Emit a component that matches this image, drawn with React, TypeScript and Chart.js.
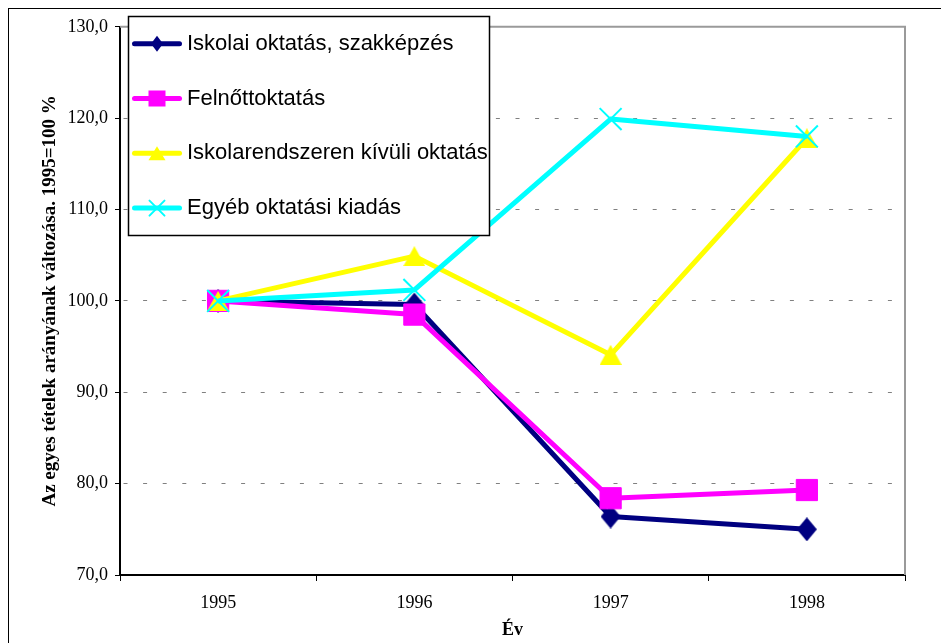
import React, { useEffect, useRef } from "react";
import { Chart, registerables } from "chart.js";

Chart.register(...registerables);

// ---- data ----
const years = ["1995", "1996", "1997", "1998"];
const iskolai = [100, 99.6, 76.4, 75.0];
const felnott = [100, 98.5, 78.4, 79.3];
const iskolarendszeren = [100, 104.9, 94.1, 117.8];
const egyeb = [100, 101.2, 119.9, 118.0];
const seriesNames = [
  "Iskolai oktatás, szakképzés",
  "Felnőttoktatás",
  "Iskolarendszeren kívüli oktatás",
  "Egyéb oktatási kiadás",
];
const yTicks = [70, 80, 90, 100, 110, 120, 130];
const yTickLabels = ["70,0", "80,0", "90,0", "100,0", "110,0", "120,0", "130,0"];
const yTitle = "Az egyes tételek arányának változása. 1995=100 %";
const xTitle = "Év";

// ---- styles ----
const NAVY = "#000080";
const MAGENTA = "#FF00FF";
const YELLOW = "#FFFF00";
const CYAN = "#00FFFF";
const colors = [NAVY, MAGENTA, YELLOW, CYAN];
const markers = ["diamond", "square", "triangle", "cross"];

function makeDiamond(w: number, h: number, color: string) {
  const c = document.createElement("canvas");
  c.width = w;
  c.height = h;
  const g = c.getContext("2d")!;
  g.fillStyle = color;
  g.beginPath();
  g.moveTo(w / 2, 0);
  g.lineTo(w, h / 2);
  g.lineTo(w / 2, h);
  g.lineTo(0, h / 2);
  g.closePath();
  g.fill();
  return c;
}

function makeTriangle(w: number, h: number, color: string) {
  const c = document.createElement("canvas");
  c.width = w;
  c.height = h;
  const g = c.getContext("2d")!;
  g.fillStyle = color;
  g.beginPath();
  g.moveTo(w / 2, 0);
  g.lineTo(w, h);
  g.lineTo(0, h);
  g.closePath();
  g.fill();
  return c;
}

function drawMarker(ctx: CanvasRenderingContext2D, kind: string, x: number, y: number, color: string) {
  ctx.save();
  ctx.fillStyle = color;
  ctx.strokeStyle = color;
  if (kind === "diamond") {
    ctx.beginPath();
    ctx.moveTo(x, y - 8);
    ctx.lineTo(x + 6, y);
    ctx.lineTo(x, y + 8);
    ctx.lineTo(x - 6, y);
    ctx.closePath();
    ctx.fill();
  } else if (kind === "square") {
    ctx.fillRect(x - 8.5, y - 8, 17, 16);
  } else if (kind === "triangle") {
    ctx.beginPath();
    ctx.moveTo(x, y - 7);
    ctx.lineTo(x + 8.5, y + 7);
    ctx.lineTo(x - 8.5, y + 7);
    ctx.closePath();
    ctx.fill();
  } else {
    ctx.lineWidth = 2;
    ctx.beginPath();
    ctx.moveTo(x - 7.5, y - 7.5);
    ctx.lineTo(x + 7.5, y + 7.5);
    ctx.moveTo(x + 7.5, y - 7.5);
    ctx.lineTo(x - 7.5, y + 7.5);
    ctx.stroke();
  }
  ctx.restore();
}

const plotBorderPlugin = {
  id: "plotBorder",
  beforeDatasetsDraw(chart: any) {
    const { ctx, chartArea } = chart;
    ctx.save();
    ctx.strokeStyle = "#9a9a9a";
    ctx.lineWidth = 2;
    ctx.beginPath();
    ctx.moveTo(chartArea.left, chartArea.top);
    ctx.lineTo(chartArea.right, chartArea.top);
    ctx.lineTo(chartArea.right, chartArea.bottom);
    ctx.stroke();
    ctx.restore();
  },
};

const legendPlugin = {
  id: "boxLegend",
  afterDraw(chart: any) {
    const ctx: CanvasRenderingContext2D = chart.ctx;
    const bx = 119.5;
    const by = 7.5;
    const bw = 361;
    const bh = 219;
    ctx.save();
    ctx.fillStyle = "#ffffff";
    ctx.fillRect(bx, by, bw, bh);
    ctx.strokeStyle = "#000000";
    ctx.lineWidth = 1.5;
    ctx.strokeRect(bx, by, bw, bh);
    seriesNames.forEach((name, i) => {
      const y = 34.7 + i * 54.8;
      ctx.strokeStyle = colors[i];
      ctx.lineWidth = 5;
      ctx.lineCap = "round";
      ctx.beginPath();
      ctx.moveTo(125.5, y);
      ctx.lineTo(170.5, y);
      ctx.stroke();
      drawMarker(ctx, markers[i], 148, y, colors[i]);
      ctx.fillStyle = "#000000";
      ctx.font = '22px "Liberation Sans", Arial, sans-serif';
      ctx.textBaseline = "middle";
      ctx.textAlign = "left";
      ctx.fillText(name, 178, y);
    });
    ctx.restore();
  },
};

export default function App() {
  const ref = useRef<HTMLCanvasElement>(null);

  useEffect(() => {
    if (!ref.current) return;
    const diamond = makeDiamond(20, 24, NAVY);
    const triangle = makeTriangle(22, 20, YELLOW);
    const serif = '"Liberation Serif", "Times New Roman", serif';

    const chart = new Chart(ref.current, {
      type: "line",
      data: {
        labels: years,
        datasets: [
          {
            label: seriesNames[0],
            data: iskolai,
            borderColor: NAVY,
            backgroundColor: NAVY,
            borderWidth: 5,
            pointStyle: diamond as any,
            pointRadius: 10,
            order: 4,
          },
          {
            label: seriesNames[1],
            data: felnott,
            borderColor: MAGENTA,
            backgroundColor: MAGENTA,
            borderWidth: 5,
            pointStyle: "rect",
            pointRadius: 15,
            pointBorderWidth: 1,
            pointBackgroundColor: MAGENTA,
            pointBorderColor: MAGENTA,
            order: 3,
          },
          {
            label: seriesNames[2],
            data: iskolarendszeren,
            borderColor: YELLOW,
            backgroundColor: YELLOW,
            borderWidth: 5,
            pointStyle: triangle as any,
            pointRadius: 10,
            order: 2,
          },
          {
            label: seriesNames[3],
            data: egyeb,
            borderColor: CYAN,
            backgroundColor: CYAN,
            borderWidth: 5,
            pointStyle: "crossRot",
            pointRadius: 15.5,
            pointBorderWidth: 2,
            pointBorderColor: CYAN,
            order: 1,
          },
        ],
      },
      options: {
        animation: false,
        responsive: false,
        events: [],
        datasets: { line: { tension: 0, borderJoinStyle: "round" } as any },
        layout: { padding: { left: 0, top: 15, right: 44, bottom: 0 } },
        plugins: {
          legend: { display: false },
          tooltip: { enabled: false },
        },
        scales: {
          x: {
            type: "category",
            offset: true,
            grid: {
              offset: true,
              drawOnChartArea: false,
              drawTicks: true,
              tickLength: 6,
              tickColor: "#000",
              tickWidth: 1,
            },
            border: { color: "#000", width: 2 },
            ticks: {
              color: "#000",
              font: { family: serif, size: 18 },
              padding: 11,
              maxRotation: 0,
            },
            title: {
              display: true,
              text: xTitle,
              color: "#000",
              font: { family: serif, size: 18, weight: "bold" },
              padding: { top: 0, bottom: 2 },
            },
            afterFit: (s: any) => {
              s.height = 68;
            },
          },
          y: {
            type: "linear",
            min: 70,
            max: 130,
            afterBuildTicks: (s: any) => {
              s.ticks = yTicks.map((v) => ({ value: v }));
            },
            grid: {
              color: (c: any) => (c.tick && c.tick.value === 70 ? "rgba(0,0,0,0)" : "#808080"),
              lineWidth: 1,
              drawTicks: true,
              tickLength: 5,
              tickColor: "#000",
              tickWidth: 1,
            },
            border: { color: "#000", width: 2, dash: [4, 15.6], dashOffset: 17.1 },
            ticks: {
              color: "#000",
              font: { family: serif, size: 18 },
              padding: 7,
              callback: (v: any) => {
                const i = yTicks.indexOf(Number(v));
                return i >= 0 ? yTickLabels[i] : "";
              },
            },
            title: {
              display: true,
              text: yTitle,
              color: "#000",
              font: { family: serif, size: 19, weight: "bold" },
              padding: { top: 30, bottom: 0 },
            },
            afterFit: (s: any) => {
              s.width = 111;
            },
          },
        },
      },
      plugins: [plotBorderPlugin, legendPlugin],
    });
    return () => chart.destroy();
  }, []);

  return (
    <div
      style={{
        width: 940,
        height: 634,
        marginTop: -1,
        marginLeft: -1,
        borderTop: "2px solid #000",
        borderLeft: "2px solid #000",
      }}
    >
      <canvas ref={ref} width={940} height={634} style={{ display: "block", width: 940, height: 634 }} />
    </div>
  );
}
